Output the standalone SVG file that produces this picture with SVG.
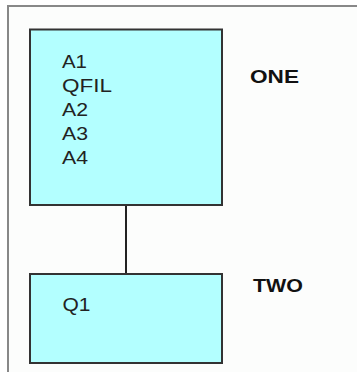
<svg xmlns="http://www.w3.org/2000/svg" width="357" height="372" viewBox="0 0 357 372">
<style>
.box{fill:#b3ffff;stroke:#333;stroke-width:2}
.lbl{font-family:"Liberation Sans",Arial,sans-serif;font-size:18px;fill:#222}
.name{font-family:"Liberation Sans",Arial,sans-serif;font-size:18px;font-weight:bold;fill:#111}
.conn{stroke:#222;stroke-width:2;fill:none}
</style>
<rect x="0" y="0" width="357" height="372" fill="#ffffff"/>
<rect x="8" y="6" width="360" height="380" fill="#fcfdfc" stroke="#888" stroke-width="2"/>
<g id="connectors">
<line class="conn" x1="126" y1="205" x2="126" y2="274"/>
</g>
<g id="node-one">
<rect class="box" x="30" y="29.5" width="192" height="175.5"/>
<text class="lbl" x="62" y="68" textLength="25" lengthAdjust="spacingAndGlyphs">A1</text>
<text class="lbl" x="62" y="92" textLength="50" lengthAdjust="spacingAndGlyphs">QFIL</text>
<text class="lbl" x="62" y="116" textLength="26" lengthAdjust="spacingAndGlyphs">A2</text>
<text class="lbl" x="62" y="140" textLength="26" lengthAdjust="spacingAndGlyphs">A3</text>
<text class="lbl" x="62" y="164" textLength="26" lengthAdjust="spacingAndGlyphs">A4</text>
<text class="name" x="250" y="83" textLength="49" lengthAdjust="spacingAndGlyphs">ONE</text>
</g>
<g id="node-two">
<rect class="box" x="30" y="274" width="192" height="89"/>
<text class="lbl" x="62.5" y="311" textLength="28" lengthAdjust="spacingAndGlyphs">Q1</text>
<text class="name" x="253" y="292" textLength="50" lengthAdjust="spacingAndGlyphs">TWO</text>
</g>
</svg>
